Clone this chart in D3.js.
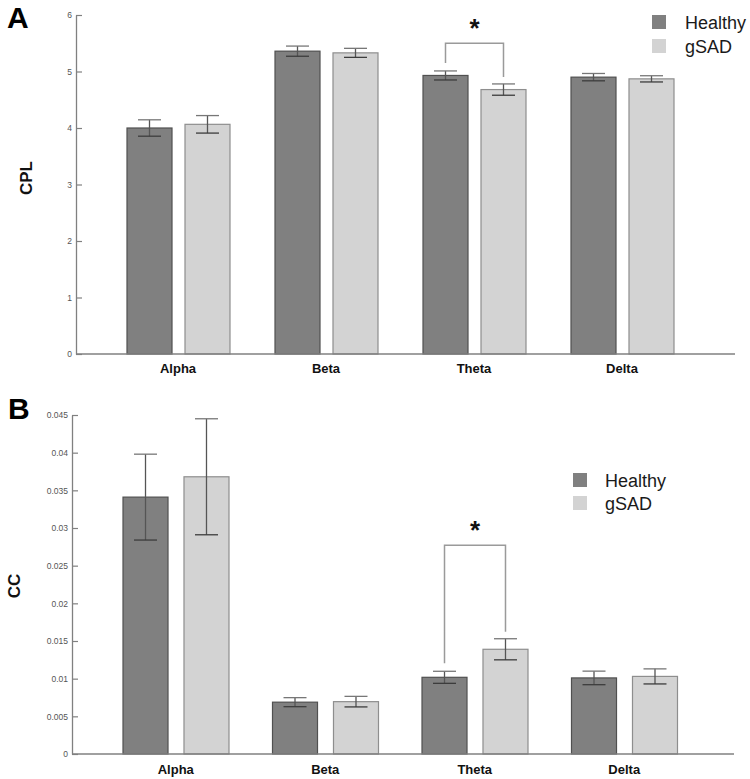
<!DOCTYPE html>
<html><head><meta charset="utf-8">
<script src="https://cdn.jsdelivr.net/npm/d3@7"></script>
<style>body{margin:0;background:#fff}svg{display:block}</style>
</head><body>
<svg id="chart" width="750" height="779"></svg>
<script>
const categories = ["Alpha", "Beta", "Theta", "Delta"];
const seriesNames = ["Healthy", "gSAD"];
// Panel A: CPL
const cplHealthy = [4.00, 5.36, 4.93, 4.90];
const cplHealthyErr = [0.145, 0.09, 0.08, 0.065];
const cplGSAD = [4.065, 5.33, 4.68, 4.87];
const cplGSADErr = [0.155, 0.08, 0.10, 0.055];
const cplTicks = [0, 1, 2, 3, 4, 5, 6];
// Panel B: CC
const ccHealthy = [0.0341, 0.00688, 0.01018, 0.0101];
const ccHealthyErr = [0.0057, 0.0006, 0.0008, 0.0009];
const ccGSAD = [0.0368, 0.00695, 0.0139, 0.0103];
const ccGSADErr = [0.0077, 0.0007, 0.0014, 0.0010];
const ccTicks = [0, 0.005, 0.01, 0.015, 0.02, 0.025, 0.03, 0.035, 0.04, 0.045];
const ccTickLabels = ["0", "0.005", "0.01", "0.015", "0.02", "0.025", "0.03", "0.035", "0.04", "0.045"];
// significance annotation: category, bracket level
const sigCategory = "Theta";

const svg = d3.select("#chart");
const colors = {Healthy: "#808080", gSAD: "#d3d3d3"};
const strokes = {Healthy: "#505050", gSAD: "#8e8e8e"};

function panel(opts) {
  const g = svg.append("g");
  const y = d3.scaleLinear().domain(opts.domain).range([opts.y0, opts.y1]);
  const x = d3.scaleBand().domain(categories).range(opts.bandRange).padding(0);
  const xs = d3.scaleBand().domain(seriesNames).range(opts.subRange).paddingInner(opts.subPad).paddingOuter(0);
  const data = [];
  categories.forEach((c, i) => {
    data.push({c, s: "Healthy", v: opts.h[i], e: opts.he[i]});
    data.push({c, s: "gSAD", v: opts.g[i], e: opts.ge[i]});
  });
  // axes
  const yAxis = d3.axisLeft(y).tickValues(opts.ticks).tickSizeInner(-6).tickSizeOuter(0).tickPadding(4)
    .tickFormat((d, i) => opts.tickLabels[i]);
  const ya = g.append("g").attr("transform", `translate(${opts.axisX},0)`).call(yAxis);
  ya.select(".domain").attr("stroke", "#808080").attr("stroke-width", 1.3);
  ya.selectAll(".tick line").attr("stroke", "#808080").attr("stroke-width", 1.2);
  ya.selectAll(".tick text").attr("fill", "#555").style("font-family", "'Liberation Sans Narrow', 'Liberation Sans', Arial, sans-serif").style("font-size", "8.5px");
  // bars
  g.selectAll("rect.bar").data(data).join("rect").attr("class", "bar")
    .attr("x", d => x(d.c) + xs(d.s)).attr("width", xs.bandwidth())
    .attr("y", d => y(d.v)).attr("height", d => y(0) - y(d.v))
    .attr("fill", d => colors[d.s]).attr("stroke", d => strokes[d.s]).attr("stroke-width", 1.2);
  // x axis line
  g.append("line").attr("x1", opts.axisX).attr("x2", opts.xEnd).attr("y1", y(0)).attr("y2", y(0))
    .attr("stroke", "#808080").attr("stroke-width", 1.4);
  // error bars
  const capW = 11.5;
  const eg = g.selectAll("g.err").data(data).join("g").attr("class", "err")
    .attr("stroke", "#555").attr("stroke-width", 1.3);
  eg.append("line").attr("x1", d => x(d.c) + xs(d.s) + xs.bandwidth() / 2).attr("x2", d => x(d.c) + xs(d.s) + xs.bandwidth() / 2)
    .attr("y1", d => y(d.v + d.e)).attr("y2", d => y(d.v - d.e));
  eg.append("line").attr("x1", d => x(d.c) + xs(d.s) + xs.bandwidth() / 2 - capW).attr("x2", d => x(d.c) + xs(d.s) + xs.bandwidth() / 2 + capW)
    .attr("y1", d => y(d.v + d.e)).attr("y2", d => y(d.v + d.e)).attr("stroke", "#777");
  eg.append("line").attr("x1", d => x(d.c) + xs(d.s) + xs.bandwidth() / 2 - capW).attr("x2", d => x(d.c) + xs(d.s) + xs.bandwidth() / 2 + capW)
    .attr("y1", d => y(d.v - d.e)).attr("y2", d => y(d.v - d.e)).attr("stroke", "#3c3c3c");
  // category labels
  g.selectAll("text.cat").data(categories).join("text").attr("class", "cat")
    .attr("x", d => x(d) + x.bandwidth() / 2).attr("y", opts.labelY).attr("text-anchor", "middle")
    .style("font-family", "'Liberation Sans', Arial, sans-serif").style("font-weight", "bold").style("font-size", "13px")
    .attr("fill", "#111").text(d => d);
  // significance bracket
  const si = categories.indexOf(sigCategory);
  const hx = x(sigCategory) + xs("Healthy") + xs.bandwidth() / 2;
  const gx = x(sigCategory) + xs("gSAD") + xs.bandwidth() / 2;
  const top = y(opts.bracketLevel);
  const hb = y(opts.h[si] + opts.he[si]) - 8;
  const gb = y(opts.g[si] + opts.ge[si]) - 7;
  g.append("path").attr("d", `M${hx},${hb}V${top}H${gx}V${gb}`).attr("fill", "none").attr("stroke", "#9a9a9a").attr("stroke-width", 1.5);
  g.append("text").attr("x", (hx + gx) / 2).attr("y", top - opts.starGap).attr("text-anchor", "middle")
    .style("font-family", "'Liberation Sans', Arial, sans-serif").style("font-weight", "bold").style("font-size", "26px")
    .attr("fill", "#111").text("*");
  // legend
  const lg = g.append("g").attr("transform", `translate(${opts.legX},${opts.legY})`);
  seriesNames.forEach((s, i) => {
    lg.append("rect").attr("x", 0).attr("y", i * opts.legStep).attr("width", 14).attr("height", 14).attr("fill", colors[s]);
    lg.append("text").attr("x", opts.legTextDx).attr("y", i * opts.legStep + 13.5)
      .style("font-family", "'Liberation Sans', Arial, sans-serif").style("font-size", "18px").attr("fill", "#1a1a1a").text(s);
  });
  // y label
  svg.append("text").attr("transform", `translate(${opts.yLabX},${opts.yLabY}) rotate(-90)`).attr("text-anchor", "middle")
    .attr("dy", "0.35em").style("font-family", "'Liberation Sans', Arial, sans-serif").style("font-weight", "bold").style("font-size", "17px")
    .attr("fill", "#111").text(opts.yLabel);
  // panel letter
  svg.append("text").attr("x", opts.letterX).attr("y", opts.letterY)
    .style("font-family", "'Liberation Sans', Arial, sans-serif").style("font-weight", "bold").style("font-size", "30px")
    .attr("fill", "#000").text(opts.letter);
}

panel({
  domain: [0, 6], y0: 354, y1: 15, axisX: 76, xEnd: 735,
  bandRange: [104, 696], subRange: [23, 126], subPad: 0.224,
  h: cplHealthy, he: cplHealthyErr, g: cplGSAD, ge: cplGSADErr,
  ticks: cplTicks, tickLabels: cplTicks.map(String),
  labelY: 373, bracketLevel: 5.5, starGap: 6,
  legX: 652, legY: 15, legStep: 24, legTextDx: 33,
  yLabel: "CPL", yLabX: 26, yLabY: 178, letter: "A", letterX: 7, letterY: 28
});
panel({
  domain: [0, 0.045], y0: 754, y1: 415, axisX: 72, xEnd: 734,
  bandRange: [101, 699], subRange: [22, 128], subPad: 0.262,
  h: ccHealthy, he: ccHealthyErr, g: ccGSAD, ge: ccGSADErr,
  ticks: ccTicks, tickLabels: ccTickLabels,
  labelY: 774, bracketLevel: 0.0277, starGap: 6,
  legX: 573, legY: 473, legStep: 23, legTextDx: 32,
  yLabel: "CC", yLabX: 14, yLabY: 586, letter: "B", letterX: 8, letterY: 419
});
</script>
</body></html>
